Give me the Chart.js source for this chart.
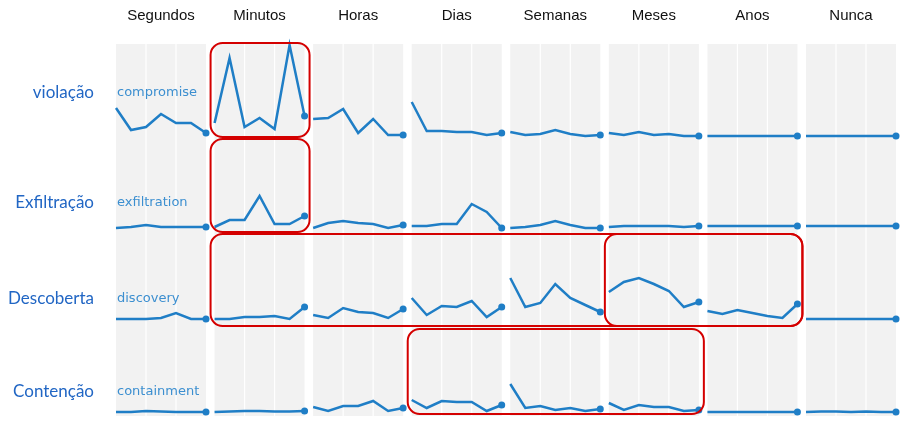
<!DOCTYPE html>
<html>
<head>
<meta charset="utf-8">
<script src="https://cdn.jsdelivr.net/npm/chart.js@4"></script>
<style>
  html, body { margin: 0; padding: 0; background: #fff; }
</style>
</head>
<body>
<canvas id="chart" width="907" height="427"></canvas>
<script>
// column and row names
var periods = ['Segundos', 'Minutos', 'Horas', 'Dias', 'Semanas', 'Meses', 'Anos', 'Nunca'];
var phases = ['compromise', 'exfiltration', 'discovery', 'containment'];
var phaseLabels = ['violação', 'Exfiltração', 'Descoberta', 'Contenção'];

// one sparkline (7 points) per period, per phase
var compromise = [
    [28, 6, 9, 22, 13, 13, 3],
    [13, 78, 9, 18, 7, 91, 20],
    [17, 18, 27, 3, 17, 1, 1],
    [34, 5, 5, 4, 4, 1, 3],
    [4, 1, 2, 6, 2, 0, 1],
    [3, 1, 4, 1, 2, 0, 0],
    [0, 0, 0, 0, 0, 0, 0],
    [0, 0, 0, 0, 0, 0, 0]
];
var exfiltration = [
    [0, 1, 3, 1, 1, 1, 1],
    [1, 8, 8, 32, 4, 4, 12],
    [0, 5, 7, 5, 4, 0, 3],
    [2, 2, 4, 4, 24, 16, 0],
    [0, 1, 3, 7, 3, 0, 0],
    [1, 2, 2, 2, 2, 1, 2],
    [2, 2, 2, 2, 2, 2, 2],
    [2, 2, 2, 2, 2, 2, 2]
];
var discovery = [
    [1, 1, 1, 2, 7, 1, 1],
    [1, 1, 3, 3, 4, 1, 13],
    [5, 2, 12, 8, 7, 2, 11],
    [22, 5, 14, 13, 19, 3, 13],
    [42, 13, 17, 36, 22, 15, 8],
    [28, 38, 42, 36, 29, 13, 18],
    [9, 6, 10, 7, 4, 2, 16],
    [1, 1, 1, 1, 1, 1, 1]
];
var containment = [
    [0, 0, 1, 0.5, 0, 0, 0],
    [0, 0.5, 1, 1, 0.5, 0.5, 1],
    [5, 1, 6, 6, 11, 1, 4],
    [12, 4, 11, 10, 10, 1, 7],
    [28, 4, 6, 2, 4, 1, 3],
    [9, 2, 7, 5, 5, 1, 2],
    [0, 0, 0, 0, 0, 0, 0],
    [0, 0.5, 0.5, 0, 0.5, 0, 0]
];

// highlighted groups: first/last period index, row index
var highlights = [
    {from: 1, to: 1, row: 0},
    {from: 1, to: 1, row: 1},
    {from: 1, to: 6, row: 2},
    {from: 5, to: 6, row: 2},
    {from: 3, to: 5, row: 3}
];

var rows = [compromise, exfiltration, discovery, containment];

var ROW = 92;        // value span of one row
var W = 0.913;       // width of one cell in column units
var LINE = '#1f7ec6';

// vertical extents of the red boxes and labels, relative to each row's base
var boxTop = [93, 89, 86, 83];
var boxBottom = [-1, -4, -6, -2];
var labelLift = [43, 25, 21, 20];

function rowBase(r) {
    return (rows.length - 1 - r) * ROW;
}

var datasets = [];
rows.forEach(function(series, r) {
    series.forEach(function(values, c) {
        datasets.push({
            label: phases[r] + ' ' + periods[c],
            data: values.map(function(v, i) {
                return {x: c + i / (values.length - 1) * W, y: rowBase(r) + v};
            }),
            borderColor: LINE,
            backgroundColor: LINE,
            borderWidth: 2.5,
            pointRadius: values.map(function(v, i) { return i === values.length - 1 ? 3.5 : 0; }),
            pointBorderWidth: 0,
            pointBackgroundColor: LINE,
            tension: 0,
            clip: false
        });
    });
});

function roundRect(ctx, x, y, w, h, r) {
    ctx.beginPath();
    ctx.moveTo(x + r, y);
    ctx.lineTo(x + w - r, y);
    ctx.arcTo(x + w, y, x + w, y + r, r);
    ctx.lineTo(x + w, y + h - r);
    ctx.arcTo(x + w, y + h, x + w - r, y + h, r);
    ctx.lineTo(x + r, y + h);
    ctx.arcTo(x, y + h, x, y + h - r, r);
    ctx.lineTo(x, y + r);
    ctx.arcTo(x, y, x + r, y, r);
    ctx.closePath();
}

var gridPlugin = {
    id: 'grid',
    beforeDatasetsDraw: function(chart) {
        var ctx = chart.ctx, xs = chart.scales.x, area = chart.chartArea;
        ctx.save();
        ctx.fillStyle = '#f2f2f2';
        for (var c = 0; c < periods.length; c++) {
            for (var s = 0; s < 3; s++) {
                var x0 = xs.getPixelForValue(c + s * W / 3) + (s > 0 ? 0.6 : 0);
                var x1 = xs.getPixelForValue(c + (s + 1) * W / 3) - (s < 2 ? 0.6 : 0);
                ctx.fillRect(x0, area.top, x1 - x0, area.bottom - area.top + 1);
            }
        }
        ctx.restore();
    },
    afterDraw: function(chart) {
        var ctx = chart.ctx, xs = chart.scales.x, ys = chart.scales.y;
        ctx.save();

        // period headers
        ctx.fillStyle = '#111';
        ctx.font = '15px "Liberation Sans", Arial, sans-serif';
        ctx.textAlign = 'center';
        ctx.textBaseline = 'middle';
        periods.forEach(function(p, c) {
            ctx.fillText(p, xs.getPixelForValue(c + W / 2), 16);
        });

        // row labels and phase names
        phases.forEach(function(name, r) {
            var y = ys.getPixelForValue(rowBase(r) + labelLift[r]);
            ctx.textAlign = 'right';
            ctx.fillStyle = '#2166c4';
            ctx.font = '17px Lato, "Open Sans", sans-serif';
            ctx.fillText(phaseLabels[r], 94, y);
            ctx.textAlign = 'left';
            ctx.fillStyle = '#3c8fd0';
            ctx.font = '13px "DejaVu Sans", sans-serif';
            ctx.fillText(name, xs.getPixelForValue(0) + 1, y);
        });

        // red highlight boxes
        ctx.strokeStyle = '#d40000';
        ctx.lineWidth = 2;
        highlights.forEach(function(h) {
            var left = xs.getPixelForValue(h.from) - 4;
            var right = xs.getPixelForValue(h.to + W) + 5;
            var top = ys.getPixelForValue(rowBase(h.row) + boxTop[h.row]);
            var bottom = ys.getPixelForValue(rowBase(h.row) + boxBottom[h.row]);
            roundRect(ctx, left, top, right - left, bottom - top, 12);
            ctx.stroke();
        });

        ctx.restore();
    }
};

new Chart(document.getElementById('chart'), {
    type: 'line',
    data: {datasets: datasets},
    options: {
        responsive: false,
        animation: false,
        devicePixelRatio: 1,
        layout: {padding: {left: 116, right: 11, top: 44, bottom: 12}},
        scales: {
            x: {type: 'linear', display: false, min: 0, max: periods.length - 1 + W},
            y: {type: 'linear', display: false, min: -3, max: (rows.length) * ROW}
        },
        plugins: {
            legend: {display: false},
            tooltip: {enabled: false}
        }
    },
    plugins: [gridPlugin]
});
</script>
</body>
</html>
